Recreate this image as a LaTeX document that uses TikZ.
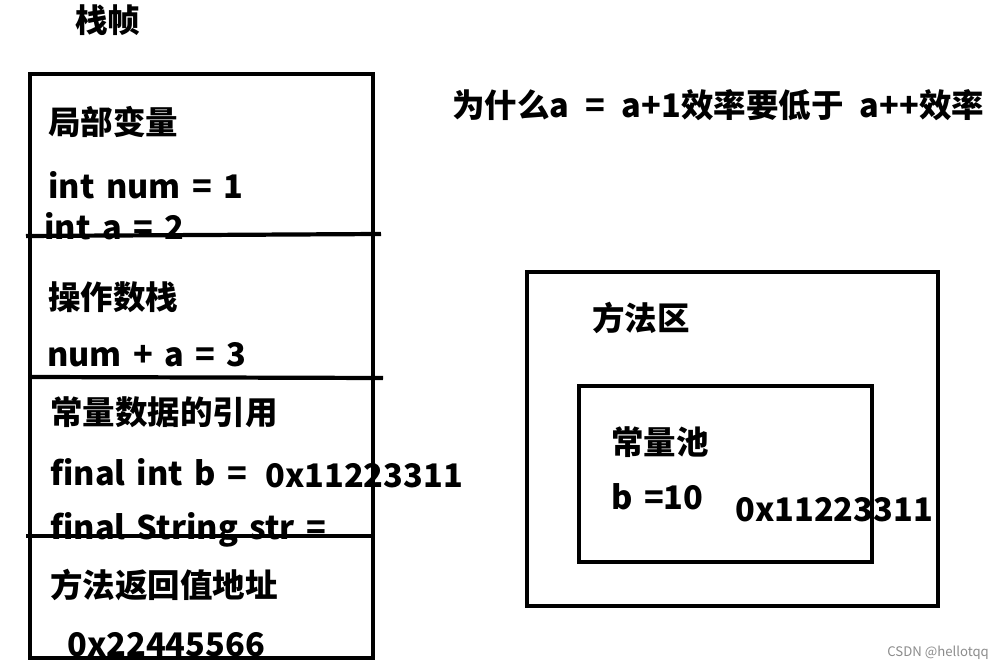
\documentclass[tikz,border=0pt]{standalone}
\usepackage{fontspec}
\setmainfont{Noto Sans CJK SC}
\newcommand\wordgap[1]{\spaceskip=#1em\relax}
\begin{document}
\begin{tikzpicture}[x=0.02cm,y=-0.02cm,
    frame/.style={line width=2.8pt},
    divider/.style={line width=2.4pt},
    txt/.style={anchor=west,inner sep=0pt,font={\fontsize{18.5}{22}\selectfont\bfseries\wordgap{0.35}}},
    wide/.style={txt,font={\fontsize{18.5}{22}\selectfont\bfseries\wordgap{0.5}}},
    watermark/.style={anchor=west,inner sep=0pt,text=black!45,font=\fontsize{7.5}{9}\selectfont}]
    \useasboundingbox[fill=white] (0,0) rectangle (1001,671);
    % stack frame
    \node[txt] (title) at (75,20) {栈帧};
    \node[txt] (locals) at (48,122) {局部变量};
    \node[txt] (num) at (48,185) {int num = 1};
    \node[txt] (avar) at (44,226) {int a = 2};
    \node[txt] (opstack) at (48,297) {操作数栈};
    \node[txt] (sum) at (47,355) {num + a = 3};
    \node[txt] (constref) at (50,412) {常量数据的引用};
    \node[txt] (bref) at (50,472) {final int b =};
    \node[txt] (baddr) at (265,476) {0x11223311};
    \node[txt] (strref) at (50,530) {final String str =};
    \node[txt] (retaddr) at (50,585) {方法返回值地址};
    \node[txt] (retval) at (67,645) {0x22445566};
    \draw[frame] (30,74) rectangle (373,658);
    \draw[divider] (26,236) -- (381,234);
    \draw[divider] (30,377) -- (383,378);
    \draw[divider] (26,536) -- (373,536);
    % question
    \node[wide] (question) at (452,105) {为什么a = a+1效率要低于 a++效率};
    % method area
    \draw[frame] (527,272) rectangle (938,606);
    \node[txt] (area) at (592,318) {方法区};
    \draw[frame] (579,386) rectangle (872,562);
    \node[txt] (pool) at (611,442) {常量池};
    \node[txt] (bval) at (611,497) {b =10};
    \node[txt] (paddr) at (735,510) {0x11223311};
    \node[watermark] (wm) at (887,653) {CSDN @hellotqq};
\end{tikzpicture}
\end{document}
